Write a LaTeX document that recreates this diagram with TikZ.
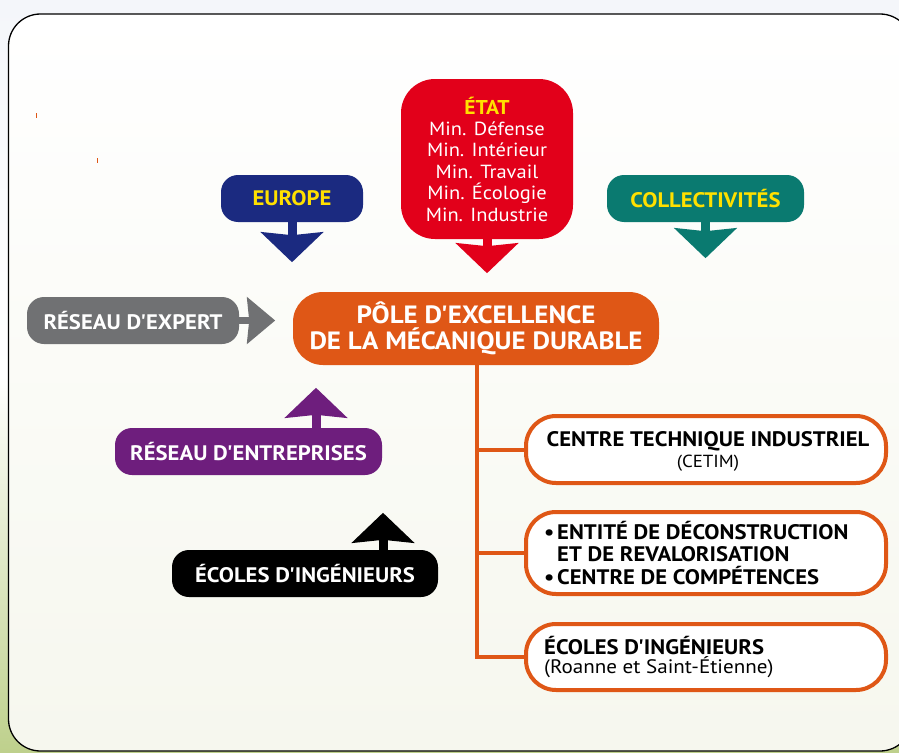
\documentclass[tikz,border=0pt]{standalone}
\usepackage{fontspec}
\setmainfont{PT Sans}[FakeStretch=1.08, Ligatures=TeXOff]
\usetikzlibrary{arrows.meta,calc}
\definecolor{eublue}{RGB}{27,42,128}
\definecolor{etatred}{RGB}{226,0,26}
\definecolor{colteal}{RGB}{10,122,112}
\definecolor{expgray}{RGB}{112,113,115}
\definecolor{poleorange}{RGB}{223,87,22}
\definecolor{entpurple}{RGB}{110,30,125}
\definecolor{labyellow}{RGB}{255,224,0}
\definecolor{insidebot}{RGB}{246,247,238}
\definecolor{outtop}{RGB}{244,246,250}
\definecolor{outbot}{RGB}{190,208,140}
\begin{document}
\begin{tikzpicture}[x=1pt,y=-1pt,
  tagbox/.style={rounded corners=17pt, inner sep=0pt, text=white,
    font=\bfseries\fontsize{21}{24}\selectfont},
  bigarrow/.style={line width=9pt, -{Stealth[length=30pt,width=62pt,inset=3pt]}},
  subbox/.style={draw=poleorange, line width=4pt, fill=white, rounded corners=30pt,
    minimum width=360pt, inner sep=0pt},
  branch/.style={draw=poleorange, line width=4pt}]
\useasboundingbox (0,0) rectangle (899,752);
% background
\shade[top color=outtop, bottom color=outbot, middle color=white] (0,0) rectangle (899,752);
\draw[line width=1.3pt, rounded corners=32pt, top color=white, bottom color=insidebot]
  (8.5,14) rectangle (912,751);
% tiny marks
\draw[poleorange, line width=0.8pt] (36,113) -- (36,118);
\draw[poleorange, line width=0.8pt] (97,158) -- (97,163);

% top boxes
\node[tagbox, fill=eublue, text=labyellow, minimum width=142pt, minimum height=47pt]
  (europe) at (292,198.5) {EUROPE};
\node[tagbox, fill=etatred, rounded corners=34pt, minimum width=172pt, minimum height=160pt,
  align=center, font=\fontsize{19}{21.4}\selectfont]
  (etat) at (487,159) {{\bfseries\fontsize{20}{22}\selectfont\color{labyellow}ÉTAT}\\Min. Défense\\Min. Intérieur\\Min. Travail\\Min. Écologie\\Min. Industrie};
\node[tagbox, fill=colteal, text=labyellow, minimum width=197pt, minimum height=47pt]
  (coll) at (705.5,198.5) {COLLECTIVITÉS};

% centre
\node[tagbox, fill=poleorange, rounded corners=30pt, minimum width=366pt, minimum height=73pt,
  align=center, font=\bfseries\fontsize{25}{26}\selectfont]
  (pole) at (476,328.5) {PÔLE D'EXCELLENCE\\DE LA MÉCANIQUE DURABLE};

% left boxes
\node[tagbox, fill=expgray, minimum width=212pt, minimum height=47pt]
  (expert) at (133,320.5) {RÉSEAU D'EXPERT};
\node[tagbox, fill=entpurple, minimum width=267pt, minimum height=47pt]
  (entr) at (248.5,451.5) {RÉSEAU D'ENTREPRISES};
\node[tagbox, fill=black, minimum width=266pt, minimum height=47pt]
  (ecoles) at (305,573.5) {ÉCOLES D'INGÉNIEURS};

% arrows
\draw[bigarrow, eublue] (europe.south) -- ++(0,40);
\draw[bigarrow, etatred] (etat.south) -- ++(0,34);
\draw[bigarrow, colteal] (coll.south) -- ++(0,36);
\draw[line width=7pt, expgray, -{Stealth[length=28pt,width=46pt,inset=2pt]}] (expert.east) -- ++(36,0);
\draw[bigarrow, entpurple] ($(entr.north)+(67.5,0)$) -- ++(0,-40);
\draw[bigarrow, black] ($(ecoles.north)+(78,0)$) -- ++(0,-37);

% right boxes
\node[subbox, minimum height=67pt] (b1) at (706,449.5) {};
\node[subbox, minimum height=82pt] (b2) at (706,553) {};
\node[subbox, minimum height=66pt] (b3) at (706,657) {};
\node[align=center, inner sep=0pt] (t1) at (708,451)
  {{\bfseries\fontsize{21}{25}\selectfont CENTRE TECHNIQUE INDUSTRIEL}\\[3pt]{\fontsize{17.5}{21}\selectfont (CETIM)}};
\node[anchor=west, align=left, inner sep=0pt, font=\bfseries\fontsize{21}{22.5}\selectfont] (t2) at (544,553)
  {\makebox[13pt][l]{•}ENTITÉ DE DÉCONSTRUCTION\\\hspace*{13pt}ET DE REVALORISATION\\\makebox[13pt][l]{•}CENTRE DE COMPÉTENCES};
\node[anchor=west, align=left, inner sep=0pt] (t3) at (544,657)
  {{\bfseries\fontsize{21}{22}\selectfont ÉCOLES D'INGÉNIEURS}\\[1pt]{\fontsize{19.5}{22}\selectfont (Roanne et Saint-Étienne)}};

% branches
\coordinate (trunk) at (477,0);
\draw[branch] (pole.south -| trunk) -- (trunk |- b3.west) -- (b3.west);
\draw[branch] (trunk |- b1.west) -- (b1.west);
\draw[branch] (trunk |- b2.west) -- (b2.west);
\end{tikzpicture}
\end{document}
